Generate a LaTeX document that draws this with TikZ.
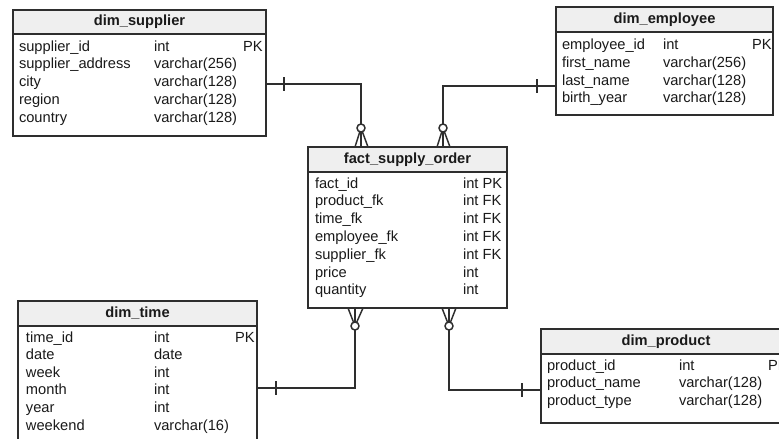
\documentclass[tikz,border=0pt]{standalone}
\usepackage{fontspec}
\setmainfont{Liberation Sans}
\usetikzlibrary{calc}
\definecolor{bordc}{HTML}{2E2E2E}
\definecolor{headc}{HTML}{EFEFEF}
\definecolor{txtc}{HTML}{1A1A1A}
\begin{document}
\begin{tikzpicture}[x=0.75pt,y=-0.75pt,
  font=\fontsize{11}{13}\selectfont, text=txtc,
  entbox/.style={draw=bordc,line width=1.1pt,fill=white,inner sep=0pt,outer sep=0pt,anchor=north west},
  enthead/.style={draw=bordc,line width=1.1pt,fill=headc,inner sep=0pt,outer sep=0pt,anchor=north west,font=\fontsize{11}{13}\selectfont\bfseries},
  fld/.style={anchor=base west,inner sep=0pt,outer sep=0pt},
  rel/.style={draw=bordc,line width=1.1pt},
  crowo/.style={circle,draw=bordc,line width=1.1pt,fill=white,minimum size=6pt,inner sep=0pt},
]
\clip (0,0) rectangle (779,439);
\fill[white] (0,0) rectangle (779,439);

% ---------- dim_supplier ----------
\node[entbox,minimum width=189.75pt,minimum height=94.5pt] (sup) at (13,10) {};
\node[enthead,minimum width=189.75pt,minimum height=18pt] (suph) at (13,10) {dim\_supplier};
\foreach \n/\t [count=\i] in {supplier\_id/int,supplier\_address/varchar(256),city/varchar(128),region/varchar(128),country/varchar(128)}{
  \node[fld] (sn\i) at (19,{51+17.8*(\i-1)}) {\n};
  \node[fld] (st\i) at (154,{51+17.8*(\i-1)}) {\t};
}
\node[fld] (spk) at (243,51) {PK};

% ---------- dim_employee ----------
\node[entbox,minimum width=162.75pt,minimum height=81pt] (emp) at (556,7) {};
\node[enthead,minimum width=162.75pt,minimum height=18.75pt] (emph) at (556,7) {dim\_employee};
\foreach \n/\t [count=\i] in {employee\_id/int,first\_name/varchar(256),last\_name/varchar(128),birth\_year/varchar(128)}{
  \node[fld] (en\i) at (562,{50+17.5*(\i-1)}) {\n};
  \node[fld] (et\i) at (663,{50+17.5*(\i-1)}) {\t};
}
\node[fld] (epk) at (752,50) {PK};

% ---------- fact_supply_order ----------
\node[entbox,minimum width=149.25pt,minimum height=120.75pt] (fact) at (308,147) {};
\node[enthead,minimum width=149.25pt,minimum height=18.75pt] (facth) at (308,147) {fact\_supply\_order};
\foreach \n/\t [count=\i] in {fact\_id/int PK,product\_fk/int FK,time\_fk/int FK,employee\_fk/int FK,supplier\_fk/int FK,price/int,quantity/int}{
  \node[fld] (fn\i) at (315,{188+17.83*(\i-1)}) {\n};
  \node[fld] (ft\i) at (463,{188+17.83*(\i-1)}) {\t};
}

% ---------- dim_time ----------
\node[entbox,minimum width=179.25pt,minimum height=112.5pt] (tim) at (18,301) {};
\node[enthead,minimum width=179.25pt,minimum height=18.75pt] (timh) at (18,301) {dim\_time};
\foreach \n/\t [count=\i] in {time\_id/int,date/date,week/int,month/int,year/int,weekend/varchar(16)}{
  \node[fld] (tn\i) at (26,{342+17.6*(\i-1)}) {\n};
  \node[fld] (tt\i) at (154,{342+17.6*(\i-1)}) {\t};
}
\node[fld] (tpk) at (235,342) {PK};

% ---------- dim_product ----------
\node[entbox,minimum width=187.5pt,minimum height=70.5pt] (prod) at (541,329) {};
\node[enthead,minimum width=187.5pt,minimum height=18.75pt] (prodh) at (541,329) {dim\_product};
\foreach \n/\t [count=\i] in {product\_id/int,product\_name/varchar(128),product\_type/varchar(128)}{
  \node[fld] (pn\i) at (547,{370+17.8*(\i-1)}) {\n};
  \node[fld] (pt\i) at (679,{370+17.8*(\i-1)}) {\t};
}
\node[fld] (ppk) at (768,370) {PK};

% ---------- relationships ----------
\coordinate (cs) at (361,84);
\coordinate (os) at (361,128);
\coordinate (ce) at (443,86);
\coordinate (oe) at (443,128);
\coordinate (ct) at (355,388);
\coordinate (ot) at (355,326);
\coordinate (cp) at (449,390);
\coordinate (op) at (449,326);

% supplier -> fact
\draw[rel] (sup.east |- cs) -| (os);
\draw[rel] ($(sup.east |- cs)+(18,-7)$) -- ++(0,14);
\draw[rel] (os) -- (os |- fact.north);
\draw[rel] (os) -- ($(os |- fact.north)+(-6,0)$);
\draw[rel] (os) -- ($(os |- fact.north)+(7,0)$);
\node[crowo] (osc) at (os) {};

% employee -> fact
\draw[rel] (emp.west |- ce) -| (oe);
\draw[rel] ($(emp.west |- ce)+(-19,-7)$) -- ++(0,14);
\draw[rel] (oe) -- (oe |- fact.north);
\draw[rel] (oe) -- ($(oe |- fact.north)+(-6,0)$);
\draw[rel] (oe) -- ($(oe |- fact.north)+(7,0)$);
\node[crowo] (oec) at (oe) {};

% time -> fact
\draw[rel] (tim.east |- ct) -| (ot);
\draw[rel] ($(tim.east |- ct)+(19,-7)$) -- ++(0,14);
\draw[rel] (ot) -- (ot |- fact.south);
\draw[rel] (ot) -- ($(ot |- fact.south)+(-7,0)$);
\draw[rel] (ot) -- ($(ot |- fact.south)+(8,0)$);
\node[crowo] (otc) at (ot) {};

% product -> fact
\draw[rel] (prod.west |- cp) -| (op);
\draw[rel] ($(prod.west |- cp)+(-19,-7)$) -- ++(0,14);
\draw[rel] (op) -- (op |- fact.south);
\draw[rel] (op) -- ($(op |- fact.south)+(-7,0)$);
\draw[rel] (op) -- ($(op |- fact.south)+(7,0)$);
\node[crowo] (opc) at (op) {};
\end{tikzpicture}
\end{document}
